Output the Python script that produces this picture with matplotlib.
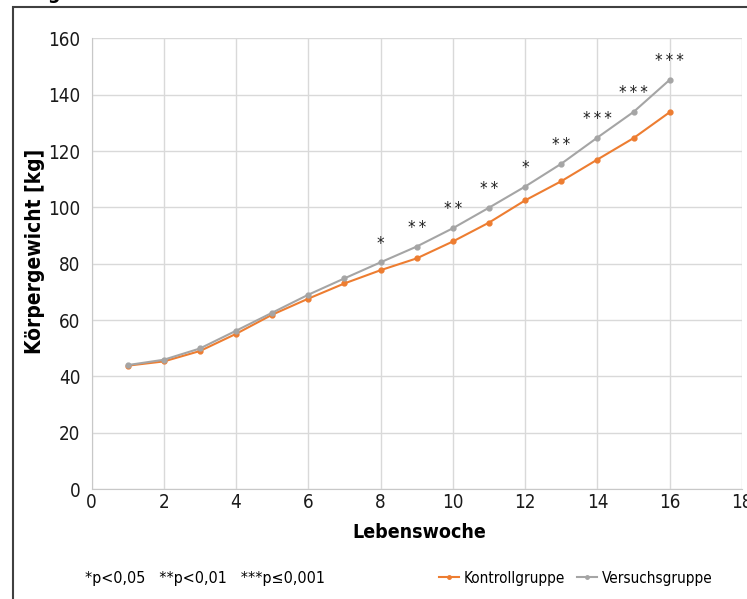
import matplotlib
matplotlib.use("Agg")
import matplotlib.pyplot as plt
from matplotlib.patches import Rectangle
from matplotlib.lines import Line2D


# DATA
weeks = [1, 2, 3, 4, 5, 6, 7, 8, 9, 10, 11, 12, 13, 14, 15, 16]
kontroll = [43.8, 45.3, 49.0, 55.1, 61.9, 67.6, 73.0, 77.7, 81.9, 87.9, 94.6, 102.5, 109.3, 117.0, 124.6, 133.8]
versuch = [44.0, 45.9, 49.9, 56.2, 62.6, 69.0, 74.8, 80.5, 86.1, 92.6, 99.9, 107.4, 115.5, 124.8, 133.9, 145.3]
signif = ["", "", "", "", "", "", "", "*", "**", "**", "**", "*", "**", "***", "***", "***"]

x_ticks = [0, 2, 4, 6, 8, 10, 12, 14, 16, 18]
y_ticks = [0, 20, 40, 60, 80, 100, 120, 140, 160]

ORANGE = "#ED7D31"
GRAY = "#A5A5A5"

# condensed look, close to the original chart font
plt.rcParams["font.family"] = ["DejaVu Sans"]
plt.rcParams["font.stretch"] = "condensed"


# FIGURE
fig = plt.figure(figsize=(7.47, 5.99), dpi=100)
ax = fig.add_axes([0.1225, 0.1836, 0.8708, 0.7523])

ax.plot(weeks, kontroll, color=ORANGE, lw=1.5, marker="o", ms=3.5, zorder=3)
ax.plot(weeks, versuch, color=GRAY, lw=1.5, marker="o", ms=3.5, zorder=3)

# significance stars above the Versuchsgruppe points
for w, v, s in zip(weeks, versuch, signif):
    if s:
        ax.annotate("\u2009".join(s), (w, v), xytext=(0, 13.5), textcoords="offset points",
                    ha="center", va="center", fontsize=12, color="#222222")

ax.set_xlim(0, 18)
ax.set_ylim(0, 160)
ax.set_xticks(x_ticks)
ax.set_yticks(y_ticks)
ax.tick_params(length=0, labelsize=13.5, colors="#1a1a1a")
ax.tick_params(axis="x", pad=3)
ax.tick_params(axis="y", pad=8)

ax.grid(True, color="#d9d9d9", lw=1)
ax.set_axisbelow(True)
for side in ["top", "right"]:
    ax.spines[side].set_visible(False)
ax.spines["left"].set_color("#c8c8c8")
ax.spines["bottom"].set_color("#c8c8c8")

# axis titles
fig.text(419 / 747, 1 - 533 / 599, "Lebenswoche", ha="center", va="center",
         fontsize=14, fontweight="bold")
fig.text(35 / 747, 1 - 251 / 599, "Körpergewicht [kg]", ha="center", va="center",
         rotation=90, fontsize=15, fontweight="bold")

# p-value note
fig.text(85 / 747, 1 - 578 / 599, "*p<0,05   **p<0,01   ***p≤0,001",
         ha="left", va="center", fontsize=11.5)

# legend
handles = [
    Line2D([], [], color=ORANGE, lw=1.5, marker="o", ms=2.5),
    Line2D([], [], color=GRAY, lw=1.5, marker="o", ms=2.5),
]
fig.legend(handles, ["Kontrollgruppe", "Versuchsgruppe"], loc="center",
           bbox_to_anchor=(576 / 747, 1 - 578 / 599), ncol=2, frameon=False,
           fontsize=11, handlelength=1.3, handletextpad=0.3, columnspacing=0.8)

# outer chart frame (cut off at right and bottom) and title fragment
fig.patches.append(Rectangle((13 / 747, -0.05), 1.2, 1 - 7 / 599 + 0.05,
                             transform=fig.transFigure, fill=False,
                             edgecolor="#404040", lw=1.5))
fig.text(47 / 747, 1 + 1 / 599, "g", ha="left", va="baseline",
         fontsize=14, fontweight="bold")

plt.savefig("out.png", dpi=100)
